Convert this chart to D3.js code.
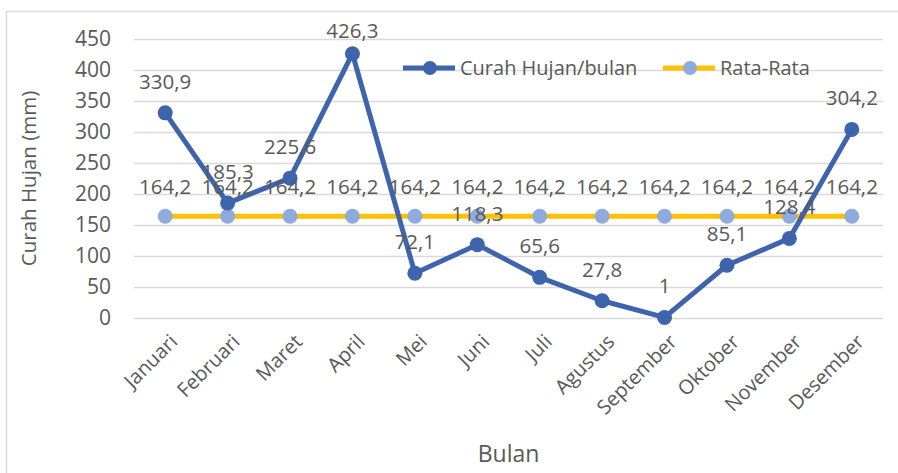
<!DOCTYPE html>
<html>
<head>
<meta charset="utf-8">
<script src="https://cdn.jsdelivr.net/npm/d3@7"></script>
<style>
  body { margin: 0; background: #fff; }
  text { font-family: "Open Sans", "Noto Sans", sans-serif; fill: #595959; }
</style>
</head>
<body>
<div id="chart"></div>
<script>
// Data
var months = ["Januari", "Februari", "Maret", "April", "Mei", "Juni", "Juli",
  "Agustus", "September", "Oktober", "November", "Desember"];
var curahHujan = [330.9, 185.3, 225.6, 426.3, 72.1, 118.3, 65.6, 27.8, 1, 85.1, 128.4, 304.2];
var rataRata = [164.2, 164.2, 164.2, 164.2, 164.2, 164.2, 164.2, 164.2, 164.2, 164.2, 164.2, 164.2];
var yTicks = [0, 50, 100, 150, 200, 250, 300, 350, 400, 450];
var seriesNames = ["Curah Hujan/bulan", "Rata-Rata"];

var svgWidth = 898;
var svgHeight = 473;

var svg = d3.select("#chart")
  .append("svg")
  .attr("width", svgWidth)
  .attr("height", svgHeight);

// chart frame
svg.append("rect")
  .attr("x", 6.5).attr("y", 11.5)
  .attr("width", 900).attr("height", 480)
  .attr("fill", "#fff")
  .attr("stroke", "#d9d9d9")
  .attr("stroke-width", 1.5);

// plot area
var plot = { left: 134, right: 883, top: 39, bottom: 318 };

var x = d3.scalePoint()
  .domain(months)
  .range([plot.left, plot.right])
  .padding(0.5);

var y = d3.scaleLinear()
  .domain([0, 450])
  .range([plot.bottom, plot.top]);

// gridlines + y tick labels
var yAxis = d3.axisLeft(y)
  .tickValues(yTicks)
  .tickSize(-(plot.right - plot.left))
  .tickPadding(23)
  .tickFormat(d3.format("d"));

var gy = svg.append("g")
  .attr("transform", `translate(${plot.left},0)`)
  .call(yAxis);
gy.select(".domain").remove();
gy.selectAll(".tick line")
  .attr("stroke", "#d9d9d9")
  .attr("stroke-width", 1.5);
gy.selectAll(".tick text")
  .style("font-size", "21px");

// x axis labels (rotated)
var xAxis = d3.axisBottom(x).tickSize(0);
var gx = svg.append("g")
  .attr("transform", `translate(0,${plot.bottom})`)
  .call(xAxis);
gx.select(".domain").remove();
gx.selectAll(".tick text")
  .style("font-size", "20px")
  .attr("text-anchor", "end")
  .attr("y", 0)
  .attr("dy", 0)
  .attr("transform", "translate(13,25) rotate(-45)");

// axis titles
svg.append("text")
  .attr("transform", `translate(36, ${(plot.top + plot.bottom) / 2}) rotate(-90)`)
  .attr("text-anchor", "middle")
  .style("font-size", "20.5px")
  .text("Curah Hujan (mm)");

svg.append("text")
  .attr("x", (plot.left + plot.right) / 2)
  .attr("y", 462)
  .attr("text-anchor", "middle")
  .style("font-size", "23px")
  .text("Bulan");

var fmt = function(v) { return String(v).replace(".", ","); };

var line = d3.line()
  .x((d, i) => x(months[i]))
  .y(d => y(d));

// Rata-Rata series
svg.append("path")
  .datum(rataRata)
  .attr("d", line)
  .attr("fill", "none")
  .attr("stroke", "#ffc000")
  .attr("stroke-width", 5);

svg.selectAll(".rataDot")
  .data(rataRata)
  .enter()
  .append("circle")
  .attr("class", "rataDot")
  .attr("cx", (d, i) => x(months[i]))
  .attr("cy", d => y(d))
  .attr("r", 7.5)
  .attr("fill", "#8faadc");

// Curah hujan series
svg.append("path")
  .datum(curahHujan)
  .attr("d", line)
  .attr("fill", "none")
  .attr("stroke", "#3e64ab")
  .attr("stroke-width", 5)
  .attr("stroke-linejoin", "round");

svg.selectAll(".curahDot")
  .data(curahHujan)
  .enter()
  .append("circle")
  .attr("class", "curahDot")
  .attr("cx", (d, i) => x(months[i]))
  .attr("cy", d => y(d))
  .attr("r", 7.5)
  .attr("fill", "#3e64ab");

// data labels
svg.selectAll(".rataLabel")
  .data(rataRata)
  .enter()
  .append("text")
  .attr("class", "rataLabel")
  .attr("x", (d, i) => x(months[i]))
  .attr("y", d => y(d) - 22)
  .attr("text-anchor", "middle")
  .style("font-size", "20.5px")
  .text(d => fmt(d));

svg.selectAll(".curahLabel")
  .data(curahHujan)
  .enter()
  .append("text")
  .attr("class", "curahLabel")
  .attr("x", (d, i) => x(months[i]))
  .attr("y", d => Math.max(y(d) - 24, 38))
  .attr("text-anchor", "middle")
  .style("font-size", "20.5px")
  .text(d => fmt(d));

// legend
var legendItems = [
  { name: seriesNames[0], x: 403, line: "#3e64ab", dot: "#3e64ab" },
  { name: seriesNames[1], x: 663, line: "#ffc000", dot: "#8faadc" }
];
var legend = svg.selectAll(".legend")
  .data(legendItems)
  .enter()
  .append("g")
  .attr("class", "legend")
  .attr("transform", d => `translate(${d.x},68)`);
legend.append("line")
  .attr("x1", 0).attr("x2", 52)
  .attr("stroke", d => d.line)
  .attr("stroke-width", 5);
legend.append("circle")
  .attr("cx", 27)
  .attr("r", 7)
  .attr("fill", d => d.dot);
legend.append("text")
  .attr("x", 57)
  .attr("y", 7)
  .style("font-size", "20px")
  .text(d => d.name);
</script>
</body>
</html>
